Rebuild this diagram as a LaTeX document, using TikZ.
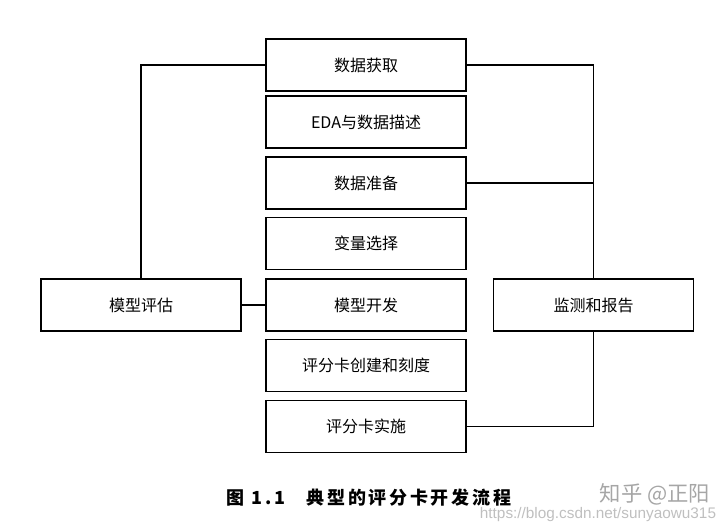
\documentclass[tikz,border=0pt]{standalone}
\usepackage{fontspec}
\setmainfont{Noto Sans CJK SC}
\newfontfamily\urlfont{Liberation Sans}
\usetikzlibrary{positioning}

\begin{document}
\begin{tikzpicture}[x=0.75pt,y=-0.75pt,line width=1.4pt,
  box/.style={draw,minimum width=150pt,minimum height=39pt,inner sep=0pt,font=\fontsize{12}{14}\selectfont}]
  \useasboundingbox (0,0) rectangle (728,531);
  % main flow
  \node[box] (get) at (366,65) {数据获取};
  \node[box] (eda) at (366,122) {EDA与数据描述};
  \node[box] (prep) at (366,183) {数据准备};
  \node[box] (sel) at (366,243.5) {变量选择};
  \node[box] (dev) at (366,305) {模型开发};
  \node[box] (card) at (366,365.5) {评分卡创建和刻度};
  \node[box] (impl) at (366,426.5) {评分卡实施};
  % side boxes
  \node[box] (eval) at (141,305) {模型评估};
  \node[box] (mon) at (593.5,305) {监测和报告};
  \draw (get.west) -| (eval.north);
  \draw (dev.west) -- (eval.east);
  \draw (get.east) -| (mon.north);
  \draw (prep.east) -| (mon.north);
  \draw (impl.east) -| (mon.south);
  % caption
  \node[font=\fontsize{13.5}{16}\selectfont\bfseries] (cap) at (369,498)
    {\addfontfeature{LetterSpace=15}图 1.1\hspace{16pt}典型的评分卡开发流程};
  \node[text=black!35,font=\fontsize{16}{18}\selectfont] (wm) at (655,494) {知乎 @正阳};
  \node[text=black!25,font=\urlfont\fontsize{11.5}{13}\selectfont] (url) at (598,515) {https://blog.csdn.net/sunyaowu315};
\end{tikzpicture}
\end{document}
